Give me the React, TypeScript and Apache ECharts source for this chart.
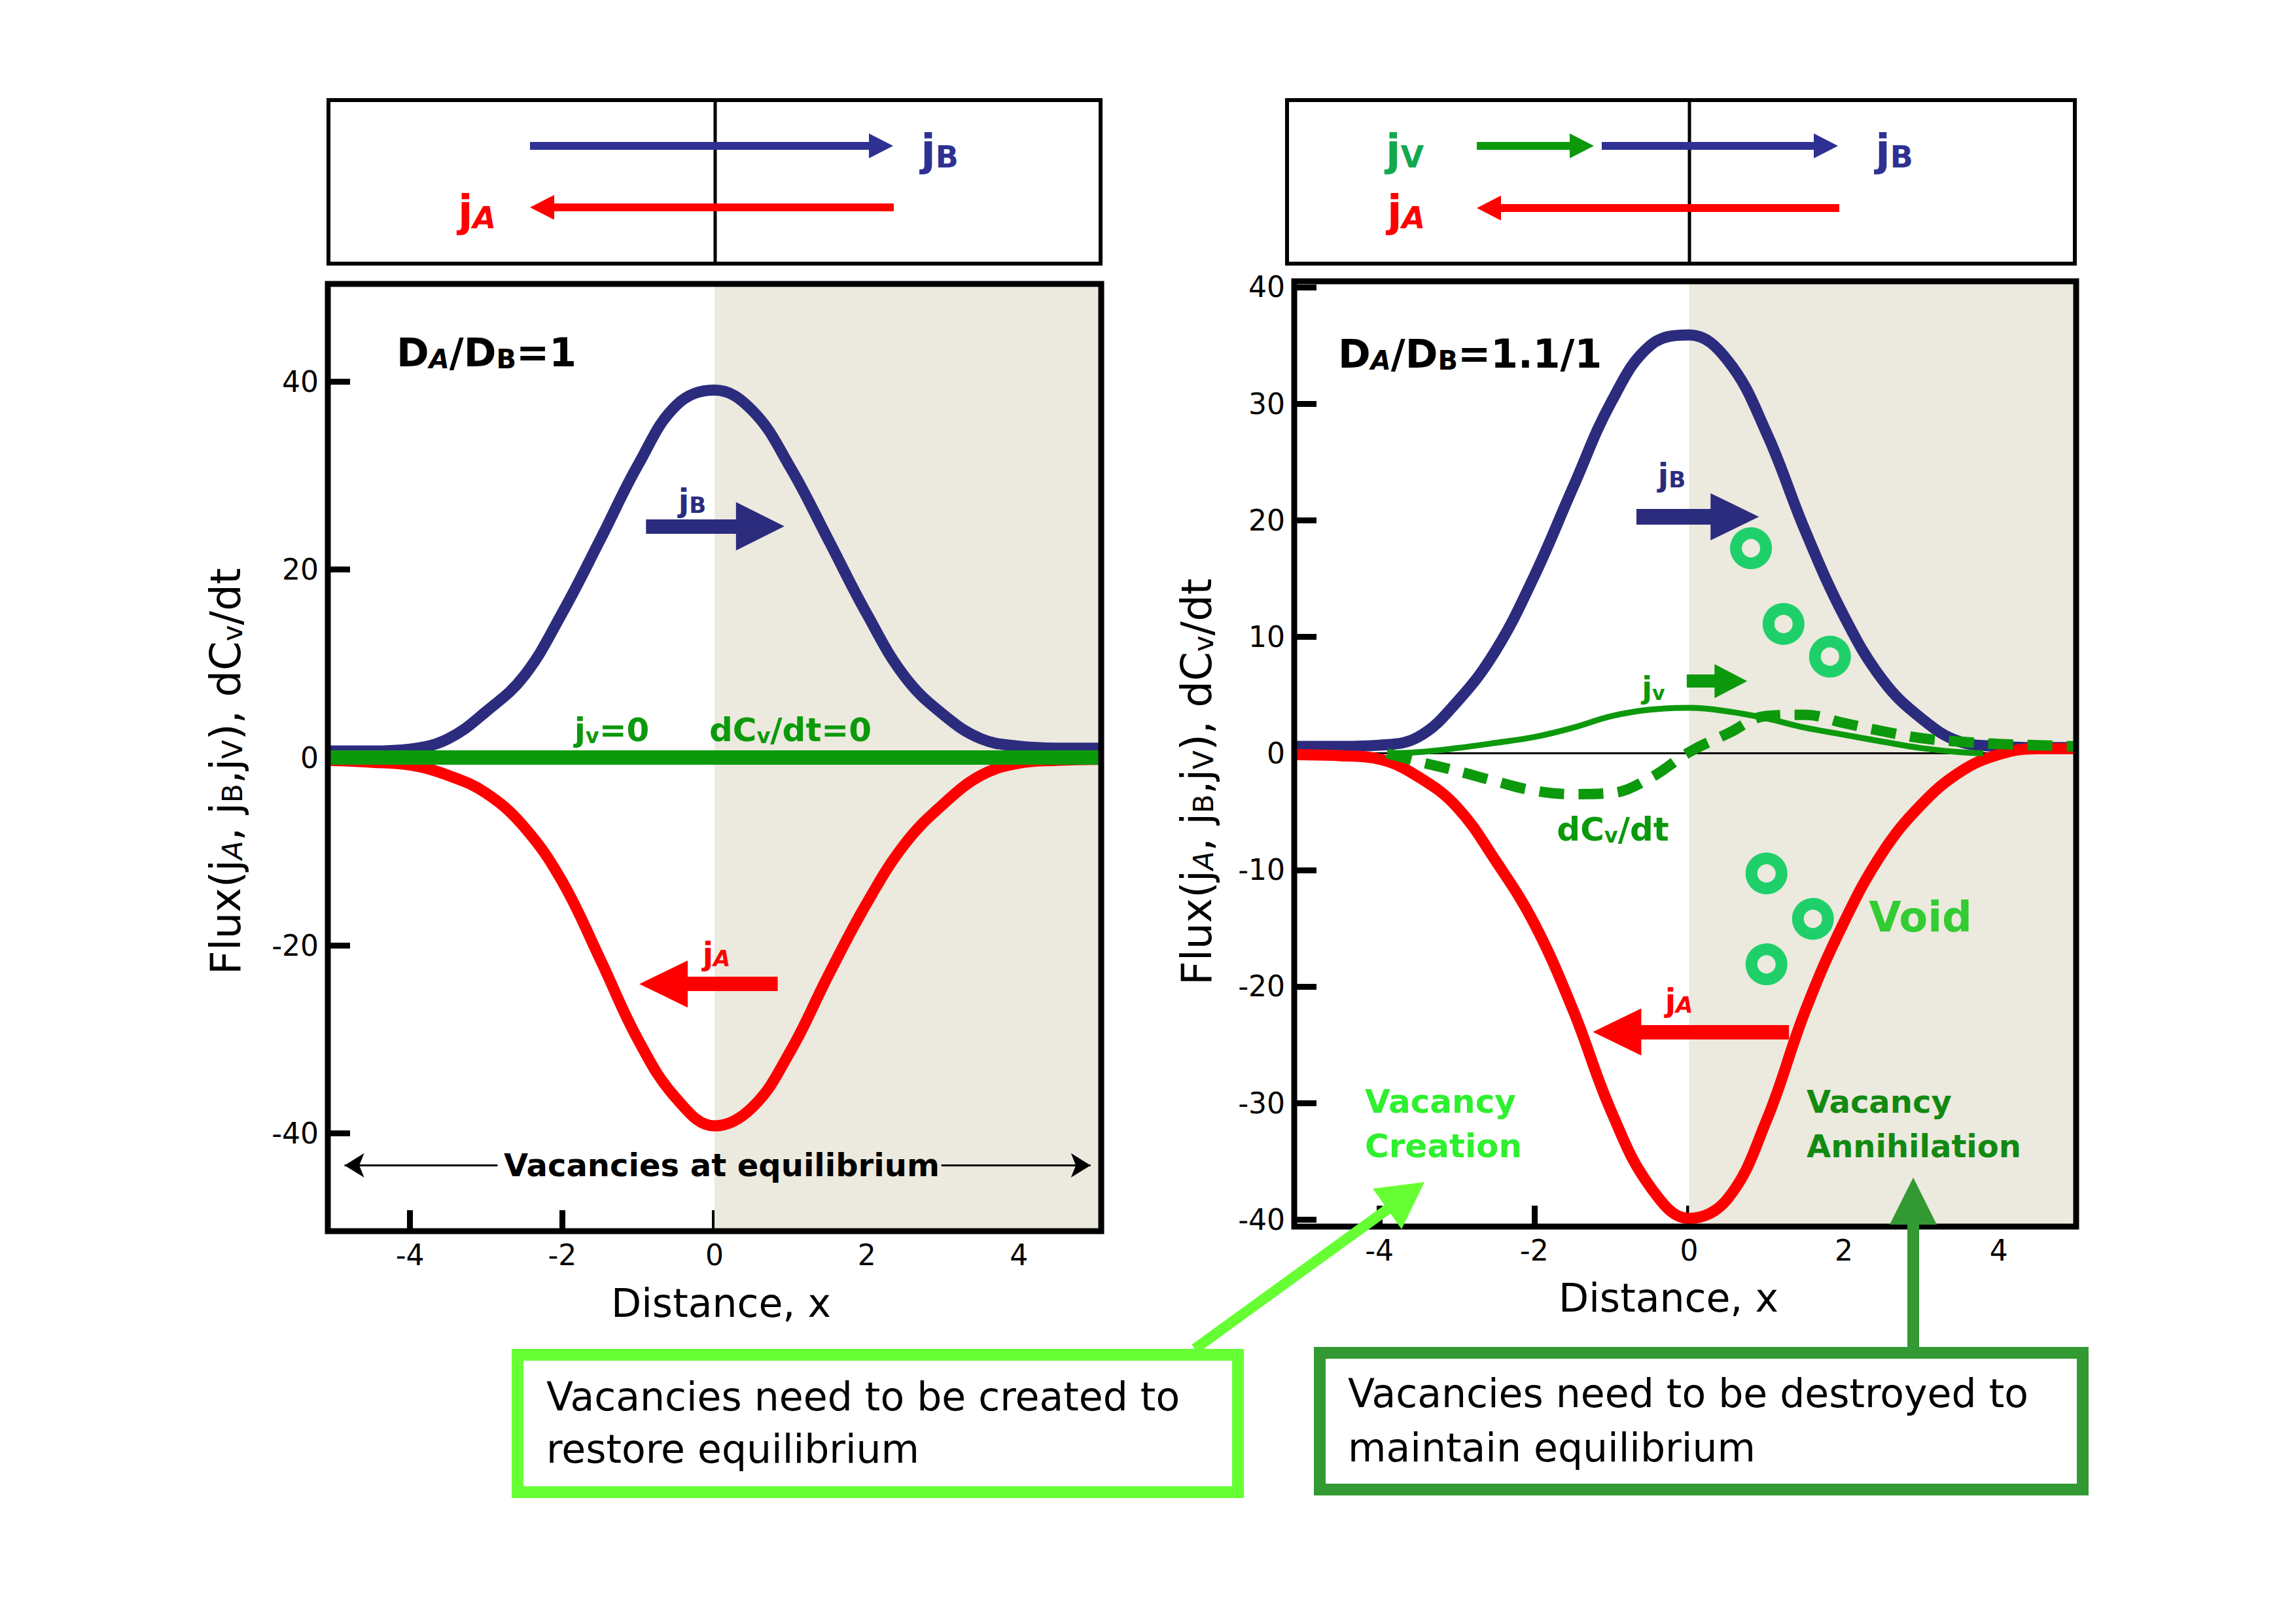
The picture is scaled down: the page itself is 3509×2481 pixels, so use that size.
import React, { useEffect, useRef } from "react";
import * as echarts from "echarts";

const FONT = "'DejaVu Sans', sans-serif";

// ---------- data ----------
const xTicks = [-4, -2, 0, 2, 4];
const yTicksLeft = [-40, -20, 0, 20, 40];
const yTicksRight = [-40, -30, -20, -10, 0, 10, 20, 30, 40];

const xLeft = [-5.08, -4.5, -4, -3.5, -3, -2.5, -2, -1.5, -1, -0.5, 0, 0.5, 1, 1.5, 2, 2.5, 3, 3.5, 4, 4.5, 5.08];
const leftJB = [0.7, 0.7, 0.9, 2.0, 4.9, 8.7, 15.4, 23.2, 31.2, 37.5, 39.1, 36.9, 30.8, 23.1, 15.3, 8.6, 4.6, 2.0, 1.2, 1.0, 1.0];
const leftJA = [-0.3, -0.5, -0.8, -1.9, -3.8, -7.4, -13.2, -21.5, -30.1, -36.3, -39.2, -37.2, -31.2, -23.1, -15.5, -9.2, -5.0, -1.9, -0.6, -0.3, -0.2];
const xLeftJv = [-5.08, 5.08];
const leftJv = [0, 0];

const xRight = [-5.1, -4.5, -4, -3.5, -3, -2.5, -2, -1.5, -1, -0.5, 0, 0.5, 1, 1.5, 2, 2.5, 3, 3.5, 4, 4.5, 5];
const rightJB = [0.6, 0.6, 0.7, 1.4, 4.4, 8.8, 15.2, 22.8, 30.2, 35.0, 35.9, 33.7, 27.5, 19.1, 11.8, 6.3, 3.0, 1.0, 0.6, 0.5, 0.5];
const rightJA = [-0.1, -0.2, -0.5, -2.0, -4.6, -9.2, -14.6, -22.0, -30.8, -37.2, -39.9, -38.2, -31.5, -22.1, -14.5, -8.5, -4.4, -1.6, -0.1, 0.4, 0.4];
const xJv = [-3.9, -3.5, -3, -2.5, -2, -1.5, -1, -0.5, 0, 0.5, 1, 1.5, 2, 2.5, 3, 3.5, 3.8];
const rightJv = [0, 0.1, 0.45, 0.9, 1.4, 2.2, 3.2, 3.75, 3.9, 3.6, 3.0, 2.2, 1.6, 1.0, 0.45, 0.1, 0];
const xDc = [-3.9, -3.5, -3, -2.5, -2, -1.5, -1, -0.5, 0, 0.5, 1, 1.5, 2, 2.5, 3, 3.5, 4, 4.5, 5];
const rightDc = [0, -0.7, -1.5, -2.4, -3.2, -3.5, -3.4, -2.1, 0.1, 1.7, 3.2, 3.3, 2.6, 1.9, 1.3, 1.0, 0.8, 0.7, 0.6];
const voidX = [0.8, 1.22, 1.82, 1.0, 1.6, 1.0];
const voidY = [17.6, 11.1, 8.3, -10.3, -14.2, -18.1];

// ---------- colours ----------
const NAVY = "#2C2C7E";
const NAVY2 = "#2E3192";
const RED = "#FF0000";
const GREEN = "#0C990C";
const GREEN_JV = "#12A84F";
const VOID = "#1FD06A";
const BEIGE = "#ECE9DE";

const zip = (xs: number[], ys: number[]) => xs.map((x, i) => [x, ys[i]]);

function xAx(gi: number, min: number, max: number) {
  return {
    type: "value", gridIndex: gi, min, max,
    axisLine: { show: false, onZero: false },
    axisTick: { show: true, inside: true, length: 32, lineStyle: { color: "#000", width: 9 }, customValues: xTicks },
    axisLabel: { show: true, customValues: xTicks, fontSize: 44, fontFamily: FONT, color: "#000", margin: 14 },
    splitLine: { show: false },
  };
}
function yAx(gi: number, min: number, max: number, ticks: number[]) {
  return {
    type: "value", gridIndex: gi, min, max,
    axisLine: { show: false, onZero: false },
    axisTick: { show: true, inside: true, length: 34, lineStyle: { color: "#000", width: 9 }, customValues: ticks },
    axisLabel: { show: true, customValues: ticks, fontSize: 44, fontFamily: FONT, color: "#000", margin: 14 },
    splitLine: { show: false },
  };
}

function arrowML(x1: number, x2: number, y: number, color: string, width: number, head: number[]) {
  return {
    silent: true, label: { show: false }, emphasis: { disabled: true },
    lineStyle: { color, width, type: "solid" },
    symbol: ["none", "triangle"], symbolSize: head,
    data: [[{ coord: [x1, y] }, { coord: [x2, y] }]],
  };
}

function hArrow(x1: number, x2: number, y: number, shaft: number, headLen: number, headHalf: number, color: string) {
  const d = x2 > x1 ? 1 : -1;
  const hb = x2 - d * headLen;
  return {
    type: "polygon", z: 60, silent: true,
    shape: { points: [[x1, y - shaft / 2], [hb, y - shaft / 2], [hb, y - headHalf], [x2, y], [hb, y + headHalf], [hb, y + shaft / 2], [x1, y + shaft / 2]] },
    style: { fill: color },
  };
}

function T(x: number, y: number, text: string, o: any = {}) {
  return {
    type: "text", x, y, z: 95, silent: true, rotation: o.rotation || 0,
    style: {
      text, fontFamily: FONT, fontSize: o.size || 48, fontWeight: o.weight || "bold",
      fill: o.color || "#000", align: o.align || "center", verticalAlign: "middle",
      rich: o.rich,
    },
  };
}

function jRich(color: string, m: number, s: number, italic = false) {
  return {
    j: { fontSize: m, fontWeight: "bold", fill: color, fontFamily: FONT, lineHeight: m * 1.15, verticalAlign: "bottom" },
    s: { fontSize: s, fontWeight: "bold", fill: color, fontFamily: FONT, lineHeight: s, verticalAlign: "bottom", fontStyle: italic ? "italic" : "normal" },
  };
}

function ratioRich(m: number, s: number) {
  return {
    m: { fontSize: m, fontWeight: "bold", fill: "#000", fontFamily: FONT, lineHeight: m * 1.15, verticalAlign: "bottom" },
    s: { fontSize: s, fontWeight: "bold", fill: "#000", fontFamily: FONT, lineHeight: s, verticalAlign: "bottom" },
    si: { fontSize: s, fontWeight: "bold", fontStyle: "italic", fill: "#000", fontFamily: FONT, lineHeight: s, verticalAlign: "bottom" },
  };
}

function titleRich(m: number, s: number) {
  return {
    m: { fontSize: m, fill: "#000", fontFamily: FONT, lineHeight: m * 1.15, verticalAlign: "bottom" },
    s: { fontSize: s, fill: "#000", fontFamily: FONT, lineHeight: s, verticalAlign: "bottom" },
    si: { fontSize: s, fontStyle: "italic", fill: "#000", fontFamily: FONT, lineHeight: s, verticalAlign: "bottom" },
  };
}

function greenRich(color: string, m: number, s: number) {
  return {
    m: { fontSize: m, fontWeight: "bold", fill: color, fontFamily: FONT, lineHeight: m * 1.15, verticalAlign: "bottom" },
    s: { fontSize: s, fontWeight: "bold", fill: color, fontFamily: FONT, lineHeight: s, verticalAlign: "bottom" },
  };
}

const lineBase = { type: "line", symbol: "none", silent: true, smooth: 0.4 };

const option: any = {
  animation: false,
  backgroundColor: "#ffffff",
  grid: [
    { left: 501, top: 434, width: 1182, height: 1448, show: false },
    { left: 1978, top: 430, width: 1195, height: 1445, show: false },
  ],
  xAxis: [xAx(0, -5.08, 5.08), xAx(1, -5.1, 5.0)],
  yAxis: [yAx(0, -50.4, 50.4, yTicksLeft), yAx(1, -40.6, 40.5, yTicksRight)],
  series: [
    {
      ...lineBase, name: "bgL", xAxisIndex: 0, yAxisIndex: 0, z: 1, smooth: false,
      data: zip(xLeftJv, leftJv), lineStyle: { width: 0, opacity: 0 },
      markArea: { silent: true, itemStyle: { color: BEIGE }, data: [[{ xAxis: 0 }, { xAxis: 5.08 }]] },
      markLine: {
        silent: true, label: { show: false }, emphasis: { disabled: true },
        lineStyle: { color: "#000", width: 3, type: "solid" },
        data: [
          [{ coord: [-4.86, -43.4], symbol: "arrow", symbolSize: [28, 30] }, { coord: [-2.85, -43.4], symbol: "none" }],
          [{ coord: [2.98, -43.4], symbol: "none" }, { coord: [4.94, -43.4], symbol: "arrow", symbolSize: [28, 30] }],
        ],
      },
    },
    {
      ...lineBase, name: "jB left", xAxisIndex: 0, yAxisIndex: 0, z: 3,
      data: zip(xLeft, leftJB), lineStyle: { color: NAVY, width: 17 },
      markLine: arrowML(-0.9, 0.6, 24.6, NAVY, 22, [74, 74]),
    },
    {
      ...lineBase, name: "jA left", xAxisIndex: 0, yAxisIndex: 0, z: 4,
      data: zip(xLeft, leftJA), lineStyle: { color: RED, width: 17 },
      markLine: arrowML(0.83, -0.67, -24.1, RED, 22, [72, 74]),
    },
    {
      ...lineBase, name: "jv left", xAxisIndex: 0, yAxisIndex: 0, z: 5, smooth: false,
      data: zip(xLeftJv, leftJv), lineStyle: { color: GREEN, width: 22 },
    },
    {
      ...lineBase, name: "zero right", xAxisIndex: 1, yAxisIndex: 1, z: 2, smooth: false,
      data: [[-5.1, 0], [5.0, 0]], lineStyle: { color: "#000", width: 3 },
      markArea: { silent: true, itemStyle: { color: BEIGE }, data: [[{ xAxis: 0 }, { xAxis: 5.0 }]] },
    },
    {
      ...lineBase, name: "jB right", xAxisIndex: 1, yAxisIndex: 1, z: 3,
      data: zip(xRight, rightJB), lineStyle: { color: NAVY, width: 17 },
      markLine: arrowML(-0.68, 0.59, 20.3, NAVY, 24, [72, 74]),
    },
    {
      ...lineBase, name: "jA right", xAxisIndex: 1, yAxisIndex: 1, z: 4,
      data: zip(xRight, rightJA), lineStyle: { color: RED, width: 17 },
      markLine: arrowML(1.29, -0.93, -23.9, RED, 22, [72, 74]),
    },
    {
      ...lineBase, name: "jv right", xAxisIndex: 1, yAxisIndex: 1, z: 5,
      data: zip(xJv, rightJv), lineStyle: { color: GREEN, width: 9 },
      markLine: arrowML(-0.03, 0.54, 6.2, GREEN, 20, [52, 50]),
    },
    {
      ...lineBase, name: "dCv/dt right", xAxisIndex: 1, yAxisIndex: 1, z: 6,
      data: zip(xDc, rightDc), lineStyle: { color: GREEN, width: 16, type: [38, 22] },
    },
    {
      type: "scatter", name: "voids", xAxisIndex: 1, yAxisIndex: 1, z: 7, silent: true,
      symbol: "circle", symbolSize: 46,
      itemStyle: { color: "rgba(0,0,0,0)", borderColor: VOID, borderWidth: 18, opacity: 1 },
      data: zip(voidX, voidY),
    },
  ],
  graphic: [
    // plot frames
    { type: "rect", z: 40, silent: true, shape: { x: 501, y: 434, width: 1182, height: 1448 }, style: { fill: "none", stroke: "#000", lineWidth: 9 } },
    { type: "rect", z: 40, silent: true, shape: { x: 1978, y: 430, width: 1195, height: 1445 }, style: { fill: "none", stroke: "#000", lineWidth: 9 } },
    // top boxes
    { type: "rect", z: 40, silent: true, shape: { x: 502, y: 153, width: 1180, height: 250 }, style: { fill: "#fff", stroke: "#000", lineWidth: 6 } },
    { type: "line", z: 41, silent: true, shape: { x1: 1093, y1: 153, x2: 1093, y2: 403 }, style: { stroke: "#000", lineWidth: 5 } },
    { type: "rect", z: 40, silent: true, shape: { x: 1967, y: 153, width: 1204, height: 250 }, style: { fill: "#fff", stroke: "#000", lineWidth: 6 } },
    { type: "line", z: 41, silent: true, shape: { x1: 2582, y1: 153, x2: 2582, y2: 403 }, style: { stroke: "#000", lineWidth: 5 } },
    hArrow(810, 1365, 223, 12, 37, 19, NAVY2),
    hArrow(1366, 810, 317, 12, 37, 19, RED),
    hArrow(2257, 2436, 223, 12, 37, 19, GREEN),
    hArrow(2448, 2809, 223, 12, 37, 19, NAVY2),
    hArrow(2811, 2257, 318, 12, 37, 19, RED),
    T(1436, 225, "{j|j}{s|B}", { rich: jRich(NAVY2, 66, 46) }),
    T(729, 318, "{j|j}{s|A}", { rich: jRich(RED, 66, 46, true) }),
    T(2147, 225, "{j|j}{s|V}", { rich: jRich(GREEN_JV, 66, 46) }),
    T(2895, 225, "{j|j}{s|B}", { rich: jRich(NAVY2, 66, 46) }),
    T(2149, 318, "{j|j}{s|A}", { rich: jRich(RED, 66, 46, true) }),
    // in-plot labels, left
    T(606, 534, "{m|D}{si|A}{m|/D}{s|B}{m|=1}", { align: "left", rich: ratioRich(60, 40) }),
    T(1058, 761, "{j|j}{s|B}", { rich: jRich(NAVY, 48, 34) }),
    T(1095, 1454, "{j|j}{s|A}", { rich: jRich(RED, 48, 34, true) }),
    T(935, 1112, "{m|j}{s|v}{m|=0}", { rich: greenRich(GREEN, 50, 32) }),
    T(1208, 1112, "{m|dC}{s|v}{m|/dt=0}", { rich: greenRich(GREEN, 50, 32) }),
    T(1103, 1781, "Vacancies at equilibrium", { size: 48 }),
    // in-plot labels, right
    T(2045, 536, "{m|D}{si|A}{m|/D}{s|B}{m|=1.1/1}", { align: "left", rich: ratioRich(60, 40) }),
    T(2555, 722, "{j|j}{s|B}", { rich: jRich(NAVY, 48, 34) }),
    T(2527, 1048, "{m|j}{s|v}", { rich: greenRich(GREEN, 46, 30) }),
    T(2465, 1264, "{m|dC}{s|v}{m|/dt}", { rich: greenRich(GREEN, 50, 32) }),
    T(2935, 1402, "Void", { size: 64, color: "#33CC33" }),
    T(2566, 1525, "{j|j}{s|A}", { rich: jRich(RED, 48, 34, true) }),
    T(2086, 1684, "Vacancy", { size: 50, color: "#2EF02E", align: "left" }),
    T(2086, 1752, "Creation", { size: 50, color: "#2EF02E", align: "left" }),
    T(2761, 1684, "Vacancy", { size: 48, color: "#128A12", align: "left" }),
    T(2761, 1752, "Annihilation", { size: 48, color: "#128A12", align: "left" }),
    // axis titles
    T(340, 1179, "{m|Flux(j}{si|A}{m|, j}{s|B}{m|,j}{s|V}{m|), dC}{s|v}{m|/dt}", { rotation: Math.PI / 2, weight: "normal", rich: titleRich(64, 42) }),
    T(1824, 1195, "{m|Flux(j}{si|A}{m|, j}{s|B}{m|,j}{s|V}{m|), dC}{s|v}{m|/dt}", { rotation: Math.PI / 2, weight: "normal", rich: titleRich(64, 42) }),
    T(1102, 1992, "Distance, x", { size: 60, weight: "normal" }),
    T(2550, 1984, "Distance, x", { size: 60, weight: "normal" }),
    // callout boxes
    { type: "line", z: 80, silent: true, shape: { x1: 1826, y1: 2062, x2: 2124, y2: 1846 }, style: { stroke: "#66FF33", lineWidth: 16 } },
    { type: "polygon", z: 80, silent: true, shape: { points: [[2177, 1807], [2142, 1879], [2098, 1817]] }, style: { fill: "#66FF33" } },
    { type: "rect", z: 80, silent: true, shape: { x: 791, y: 2071, width: 1101, height: 210 }, style: { fill: "#fff", stroke: "#66FF33", lineWidth: 18 } },
    T(835, 2135, "Vacancies need to be created to", { size: 60, weight: "normal", align: "left" }),
    T(835, 2215, "restore equilibrium", { size: 60, weight: "normal", align: "left" }),
    { type: "line", z: 80, silent: true, shape: { x1: 2924, y1: 2062, x2: 2924, y2: 1866 }, style: { stroke: "#339933", lineWidth: 18 } },
    { type: "polygon", z: 80, silent: true, shape: { points: [[2924, 1800], [2960, 1872], [2888, 1872]] }, style: { fill: "#339933" } },
    { type: "rect", z: 80, silent: true, shape: { x: 2017, y: 2068, width: 1166, height: 209 }, style: { fill: "#fff", stroke: "#339933", lineWidth: 18 } },
    T(2060, 2130, "Vacancies need to be destroyed to", { size: 60, weight: "normal", align: "left" }),
    T(2060, 2213, "maintain equilibrium", { size: 60, weight: "normal", align: "left" }),
  ],
};

export default function App() {
  const ref = useRef<HTMLDivElement>(null);
  useEffect(() => {
    const chart = echarts.init(ref.current as HTMLDivElement, undefined, { renderer: "svg" });
    chart.setOption(option);
    return () => chart.dispose();
  }, []);
  return (
    <div
      ref={ref}
      style={{ position: "absolute", left: 0, top: 0, width: 3509, height: 2481, background: "#fff" }}
    />
  );
}
